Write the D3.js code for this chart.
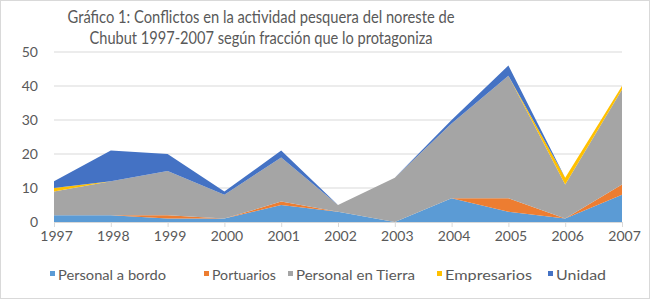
<!DOCTYPE html>
<html>
<head>
<meta charset="utf-8">
<script src="https://cdn.jsdelivr.net/npm/d3@7"></script>
<style>
  body { margin: 0; background: #fff; }
  text { font-family: Lato, "Open Sans", sans-serif; fill: #595959; }
</style>
</head>
<body>
<div id="chart"></div>
<script>
// Data
const years = [1997, 1998, 1999, 2000, 2001, 2002, 2003, 2004, 2005, 2006, 2007];
const seriesNames = ["Personal a bordo", "Portuarios", "Personal en Tierra", "Empresarios", "Unidad"];
const personalABordo   = [2, 2, 1, 1, 5, 3, 0, 7, 3, 1, 8];
const portuarios       = [0, 0, 1, 0, 1, 0, 0, 0, 4, 0, 3];
const personalEnTierra = [7, 10, 13, 7, 13, 2, 13, 22, 36, 10, 28];
const empresarios      = [1, 0, 0, 0, 0, 0, 0, 0, 0, 2, 1];
const unidad           = [2, 9, 5, 1, 2, 0, 0, 1, 3, 0, 0];
const yTicks = [0, 10, 20, 30, 40, 50];
const titleLines = [
  "Gráfico 1: Conflictos en la actividad pesquera  del noreste de",
  "Chubut 1997-2007 según fracción que lo protagoniza"
];

const colors = ["#5b9bd5", "#ed7d31", "#a5a5a5", "#ffc000", "#4472c4"];

// Build table for d3.stack
const valuesBySeries = [personalABordo, portuarios, personalEnTierra, empresarios, unidad];
const table = years.map((yr, i) => {
  const row = { year: yr };
  seriesNames.forEach((n, k) => { row[n] = valuesBySeries[k][i]; });
  return row;
});

const W = 650, H = 299;
const margin = { top: 52, right: 28, bottom: 77, left: 54 };
const width = W - margin.left - margin.right;
const height = H - margin.top - margin.bottom;

const svgRoot = d3.select("#chart").append("svg")
  .attr("width", W)
  .attr("height", H);

// outer border
svgRoot.append("rect")
  .attr("x", 0.5).attr("y", 0.5)
  .attr("width", W - 1).attr("height", H - 1)
  .attr("fill", "#fff")
  .attr("stroke", "#d9d9d9");

// Title
svgRoot.selectAll("text.title")
  .data(titleLines)
  .enter().append("text")
  .attr("class", "title")
  .attr("x", 261)
  .attr("y", (d, i) => 23 + i * 21)
  .attr("text-anchor", "middle")
  .style("font-size", "17px")
  .attr("textLength", (d, i) => i === 0 ? 387 : 343)
  .attr("lengthAdjust", "spacingAndGlyphs")
  .text(d => d);

const svg = svgRoot.append("g")
  .attr("transform", "translate(" + margin.left + "," + margin.top + ")");

const x = d3.scaleLinear().domain(d3.extent(years)).range([0, width]);
const y = d3.scaleLinear().domain([0, 50]).range([height, 0]);

// Gridlines
svg.append("g")
  .selectAll("line")
  .data(yTicks.filter(t => t > 0))
  .enter().append("line")
  .attr("x1", 0).attr("x2", width)
  .attr("y1", d => y(d)).attr("y2", d => y(d))
  .attr("stroke", "#d9d9d9")
  .attr("stroke-width", 1);

// Stacked areas
const stack = d3.stack().keys(seriesNames);
const layers = stack(table);

const area = d3.area()
  .x(d => x(d.data.year))
  .y0(d => y(d[0]))
  .y1(d => y(d[1]))
  .curve(d3.curveLinear);

svg.selectAll("path.area")
  .data(layers)
  .enter().append("path")
  .attr("class", "area")
  .attr("d", area)
  .attr("fill", (d, i) => colors[i]);

// X axis
const xAxis = svg.append("g")
  .attr("transform", "translate(0," + height + ")")
  .call(d3.axisBottom(x).tickValues(years).tickFormat(d3.format("d")).tickSize(5).tickPadding(4));
xAxis.select(".domain").attr("stroke", "#d9d9d9");
xAxis.selectAll(".tick line").attr("stroke", "#d9d9d9");
xAxis.selectAll(".tick text")
  .style("font-size", "14px")
  .attr("fill", "#595959")
  .attr("dx", 2);

// Y axis (labels only)
const yAxis = svg.append("g")
  .call(d3.axisLeft(y).tickValues(yTicks).tickSize(0).tickPadding(16));
yAxis.select(".domain").remove();
yAxis.selectAll(".tick text")
  .style("font-size", "14px")
  .attr("fill", "#595959");

// Legend
const legendX = [50, 204, 288, 437, 548];
const legendW = [108, 64, 119, 87, 50];
const legend = svgRoot.append("g").attr("class", "legend");
const items = legend.selectAll("g")
  .data(seriesNames)
  .enter().append("g")
  .attr("transform", (d, i) => "translate(" + legendX[i] + ",275)");
items.append("rect")
  .attr("x", 0).attr("y", -4)
  .attr("width", 5).attr("height", 5)
  .attr("fill", (d, i) => colors[i]);
items.append("text")
  .attr("x", 8)
  .attr("y", 0)
  .attr("dy", "0.33em")
  .style("font-size", "14px")
  .attr("textLength", (d, i) => legendW[i])
  .attr("lengthAdjust", "spacingAndGlyphs")
  .text(d => d);
</script>
</body>
</html>
